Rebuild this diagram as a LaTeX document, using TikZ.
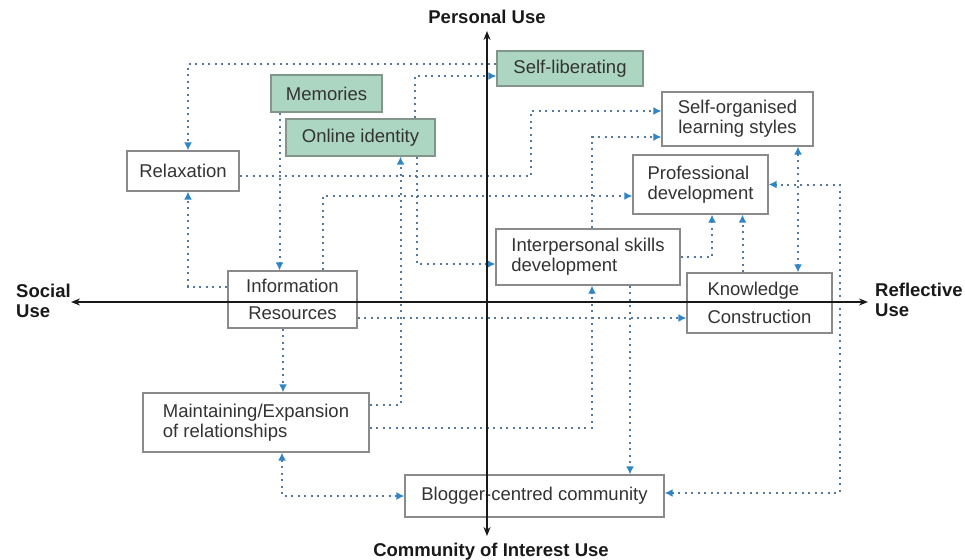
\documentclass[tikz,border=0pt]{standalone}
\usepackage{fontspec}
\setmainfont{Liberation Sans}
\usetikzlibrary{arrows.meta,backgrounds}
\definecolor{dotc}{HTML}{56789A}
\definecolor{arrowc}{HTML}{2F86C6}
\definecolor{greenf}{HTML}{ACD6C1}
\definecolor{greend}{HTML}{82968B}
\definecolor{boxd}{HTML}{8A8A8A}
\definecolor{txt}{HTML}{333333}
\tikzset{
  box/.style={draw=boxd, line width=1.2pt, fill=white, inner sep=0pt, align=center,
    text=txt, font=\fontsize{18.5}{20}\selectfont},
  gbox/.style={box, draw=greend, fill=greenf},
  tipc/.style={},
  conn/.style={draw=dotc, line width=2pt, dash pattern=on 2pt off 4.5pt,
    -{Latex[length=8pt,width=8pt,color=arrowc]}},
  dconn/.style={conn, {Latex[length=8pt,width=8pt,color=arrowc]}-{Latex[length=8pt,width=8pt,color=arrowc]}},
  axis/.style={draw=black!90, line width=1.6pt, {Stealth[length=9pt,width=7pt]}-{Stealth[length=9pt,width=7pt]}},
  axlabel/.style={font=\bfseries\fontsize{18.5}{20}\selectfont, text=black!90, inner sep=0pt, align=left}
}
\begin{document}
\begin{tikzpicture}[x=1pt,y=-1pt]
\useasboundingbox (0,0) rectangle (965,559);

% boxes
\node[gbox, minimum width=146, minimum height=35] (selflib) at (570,68.5) {Self-liberating};
\node[gbox, minimum width=111, minimum height=37] (memories) at (326.5,93.5) {Memories};
\node[gbox, minimum width=149, minimum height=37] (online) at (360.5,137.5) {Online identity};
\node[box, minimum width=112, minimum height=40] (relax) at (183,171) {Relaxation};
\node[box, minimum width=151, minimum height=54] (selforg) at (737.5,119) {Self-organised\\learning styles};
\node[box, minimum width=135, minimum height=59, align=left] (profdev) at (700.5,184.5) {Professional\\development};
\node[box, minimum width=184, minimum height=56, align=left] (interp) at (588,257) {Interpersonal skills\\development};
\node[box, minimum width=145, minimum height=60, align=left] (knowcon) at (759.5,303) {Knowledge\\[8pt]Construction};
\node[box, minimum width=129, minimum height=57] (info) at (292.5,299.5) {Information\\[7pt]Resources};
\node[box, minimum width=226, minimum height=59, align=left] (maint) at (256,422.5) {Maintaining/Expansion\\of relationships};
\node[box, minimum width=259, minimum height=42] (blogger) at (534.5,496) {Blogger-centred community};

% connectors
\begin{pgfonlayer}{background}
\draw[conn] ([yshift=4.5]selflib.west) -| ([xshift=5]relax.north);
\draw[conn] ([yshift=12.5]info.west) -| ([xshift=5]relax.south);
\draw[conn] ([xshift=-47]memories.south) -- ([xshift=-13]info.north);
\draw[conn] ([xshift=54.5]online.north) |- ([yshift=-7.5]selflib.west);
\draw[conn] ([xshift=56.5]online.south) |- ([yshift=-7]interp.west);
\draw[conn] ([yshift=17.5]maint.east) -| ([xshift=40]online.south);
\draw[conn] ([yshift=-5]relax.east) -- ++(291,0) |- ([yshift=8]selforg.west);
\draw[conn] ([xshift=30]info.north) |- ([yshift=-11.5]profdev.west);
\draw[conn] ([xshift=4]interp.north) |- ([yshift=-18]selforg.west);
\draw[conn] ([yshift=-5.5]maint.east) -| ([xshift=4]interp.south);
\draw[conn] (interp.east) -| ([xshift=11.5]profdev.south);
\draw[conn] ([xshift=-17]knowcon.north) -- ([xshift=42]profdev.south);
\draw[dconn] ([xshift=60.5]selforg.south) -- ([xshift=38.5]knowcon.north);
\draw[dconn] ([yshift=3]blogger.east) -- ++(175,0) |- (profdev.east);
\draw[conn] ([xshift=42]interp.south) -- ([xshift=95.5]blogger.north);
\draw[conn] ([xshift=-9.5]info.south) -- ([xshift=27]maint.north);
\draw[dconn] ([xshift=26]maint.south) |- (blogger.west);
\draw[conn] ([yshift=-18.5]info.east) -- ([yshift=-15]knowcon.west);
\end{pgfonlayer}

% axes
\coordinate (ytop) at (487,31);
\coordinate (ybot) at (487,536);
\coordinate (xleft) at (71,302);
\coordinate (xright) at (868,302);
\draw[axis] (ytop) -- (ybot);
\draw[axis] (xleft) -- (xright);
\node[axlabel] (pu) at (487,17) {Personal Use};
\node[axlabel] (ciu) at (491,552) {Community of Interest Use};
\node[axlabel, anchor=west] (su) at (16,301) {Social\\Use};
\node[axlabel, anchor=west] (ru) at (875,300) {Reflective\\Use};
\end{tikzpicture}
\end{document}
